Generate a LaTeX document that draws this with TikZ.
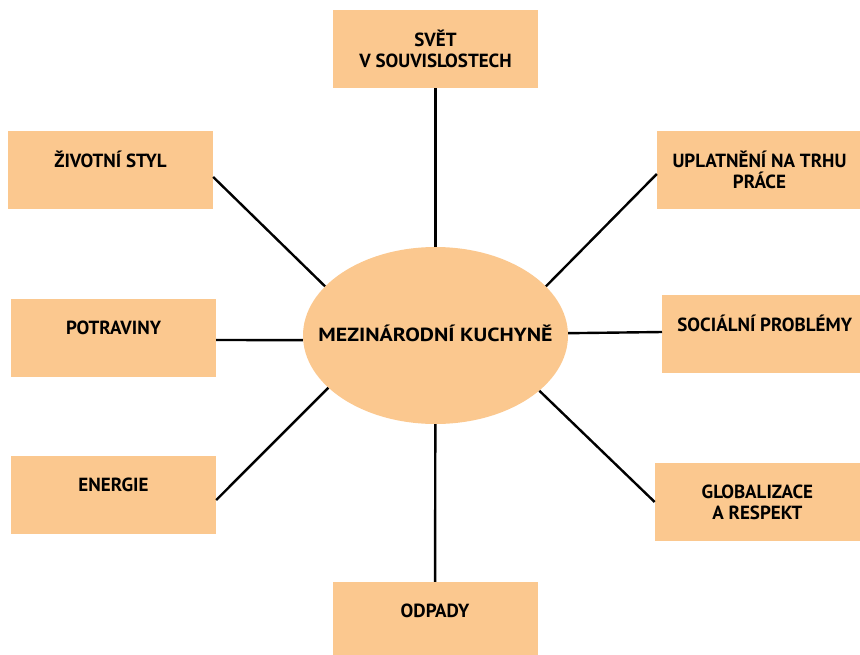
\documentclass[tikz,border=0pt]{standalone}
\usepackage{fontspec}
\setmainfont{PT Sans}
\usetikzlibrary{positioning, shapes.geometric}
\definecolor{oranz}{RGB}{251,200,143}
\tikzset{
    tema/.style={rectangle, fill=oranz, minimum width=205pt, minimum height=78pt, inner sep=0pt, align=center, font=\fontsize{19}{21}\selectfont\bfseries},
    stred/.style={ellipse, fill=oranz, minimum width=265pt, minimum height=177pt, inner sep=0pt, font=\fontsize{19}{21}\selectfont\bfseries},
    spoj/.style={line width=2.4pt, black}
}
\begin{document}
\begin{tikzpicture}[x=1pt, y=-1pt]
            \clip (0,0) rectangle (860,654);
            \node[stred] (kuch) at (435.5,335.5) {\makebox[0pt]{\raisebox{4pt}{\scalebox{1.15}[1]{MEZINÁRODNÍ KUCHYNĚ}}}};
            \node[tema] (svet) at (435.5,49) {SVĚT\\V SOUVISLOSTECH};
            \node[tema] (styl) at (110.5,170) {ŽIVOTNÍ STYL\\\mbox{}};
            \node[tema] (trh) at (759.5,170) {UPLATNĚNÍ NA TRHU\\PRÁCE};
            \node[tema] (potraviny) at (113.5,338) {POTRAVINY\\\mbox{}};
            \node[tema] (socialni) at (764.7,334) {SOCIÁLNÍ PROBLÉMY\\\mbox{}};
            \node[tema] (energie) at (113.5,495) {ENERGIE\\\mbox{}};
            \node[tema] (global) at (757.4,502) {GLOBALIZACE\\A RESPEKT};
            \node[tema] (odpady) at (435,621) {ODPADY\\\mbox{}};
            \draw[spoj] (svet) -- (kuch);
            \draw[spoj] (odpady) -- (kuch);
            \draw[spoj] ([yshift=-7pt]styl.east) -- (kuch.156.2);
            \draw[spoj] ([yshift=-4pt]trh.west) -- (kuch.24.8);
            \draw[spoj] ([yshift=-2pt]potraviny.east) -- (kuch.182);
            \draw[spoj] ([yshift=2pt]socialni.west) -- (kuch.1.4);
            \draw[spoj] ([yshift=-5pt]energie.east) -- (kuch.206.5);
            \draw[spoj] (global.west) -- (kuch.332.8);
        \end{tikzpicture}
\end{document}
